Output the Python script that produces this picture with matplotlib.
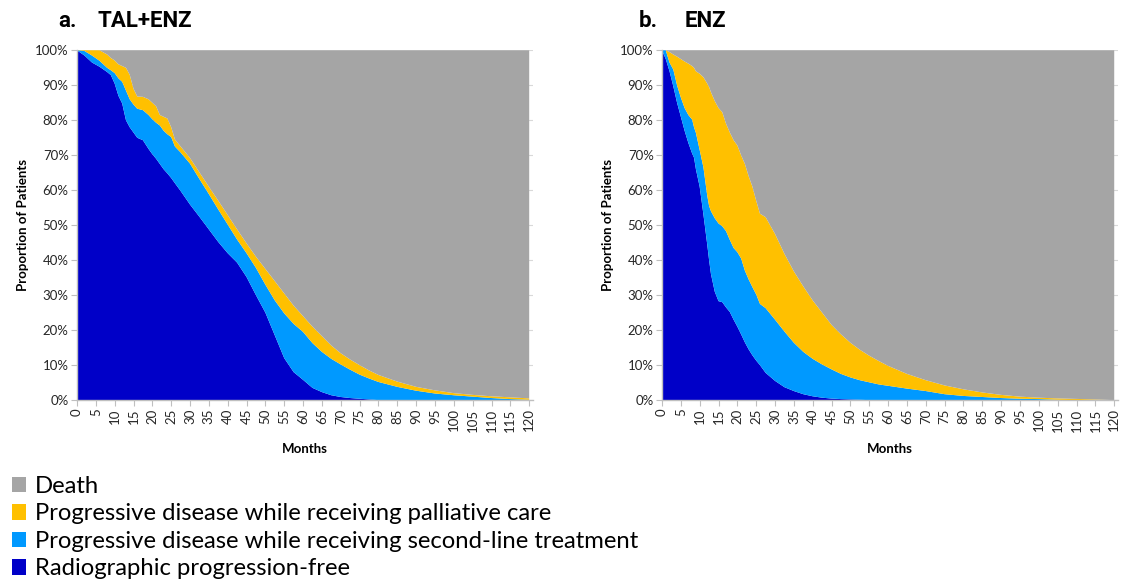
"""Stacked state-occupancy curves, TAL+ENZ vs ENZ."""

import matplotlib.pyplot as plt
import numpy as np
from matplotlib.patches import Patch
from matplotlib.ticker import FuncFormatter, MultipleLocator

plt.rcParams["font.family"] = ["Lato", "DejaVu Sans"]

COLORS = {
    "death": "#A5A5A5",
    "palliative": "#FFC000",
    "second_line": "#0099FF",
    "rpf": "#0000C8",
}
LEGEND_LABELS = [
    ("death", "Death"),
    ("palliative", "Progressive disease while receiving palliative care"),
    ("second_line", "Progressive disease while receiving second-line treatment"),
    ("rpf", "Radiographic progression-free"),
]

# panel a: cumulative %
A_MONTHS = [0, 2, 4, 6, 8, 9, 10, 11, 12, 13, 14, 15, 16, 17.5, 19, 20, 21, 22, 23, 24,
            25, 26, 27.5, 30, 32.5, 35, 37.5, 40, 42.5, 45, 47.5, 50, 52.5, 55, 57.5, 60,
            62.5, 65, 67.5, 70, 72.5, 75, 77.5, 80, 85, 90, 95, 100, 105, 110, 115, 120]
A_RPF = [100, 98.5, 96.5, 95.3, 93.8, 92.9, 90.5, 87, 84.8, 80, 78, 76.5, 75, 74.3, 71.8,
         70.3, 69, 67.5, 66, 64.8, 63.5, 62, 59.8, 55.9, 52.4, 48.8, 45.2, 42, 39.3, 35.2,
         30, 25, 18.5, 12, 8, 5.8, 3.5, 2.3, 1.4, 0.9, 0.6, 0.4, 0.2, 0, 0, 0, 0, 0, 0, 0,
         0, 0]
A_RPF_OR_2L = [100, 99.8, 98.5, 97, 95, 94.3, 93.5, 92, 91, 88.5, 86, 84.5, 83.3, 82.9,
               81.5, 80.3, 79.3, 78.5, 77, 76, 75.2, 72.5, 70.8, 67.6, 63.2, 58.9, 54.5,
               50.2, 45.9, 42, 37.8, 33, 28.5, 24.8, 21.8, 19.5, 16.3, 13.8, 11.8, 10.2,
               8.7, 7.3, 6.2, 5.2, 3.8, 2.7, 1.9, 1.4, 1, 0.6, 0.3, 0.1]
A_ALIVE = [100, 100, 100, 100, 98.8, 97.8, 97.1, 96, 95.5, 95, 93, 89, 86.8, 86.7, 86,
           85, 84, 81.5, 81, 80.5, 78, 74.5, 72.5, 69.2, 65.1, 61, 57, 52.9, 48.8, 44.8,
           41, 37.5, 34, 30.5, 27, 24, 21, 18.3, 15.6, 13.4, 11.6, 10, 8.5, 7.2, 5.3, 3.8,
           2.8, 2, 1.5, 1.1, 0.8, 0.5]

# panel b: cumulative %
B_MONTHS = [0, 1, 2, 3, 4, 5, 6, 7, 8, 8.5, 9, 10, 11, 12, 12.5, 13, 14, 15, 16, 17, 18,
            19, 20, 21, 22, 23, 24, 25, 26, 27.5, 30, 32.5, 35, 37.5, 40, 42.5, 45, 47.5,
            50, 52.5, 55, 57.5, 60, 65, 70, 75, 80, 85, 90, 95, 100, 105, 110, 115, 120]
B_RPF = [100, 97.5, 94, 89.7, 85, 81, 77, 73.5, 70.5, 69.3, 66, 61, 53, 44.5, 40, 36,
         31, 28.3, 28, 26.5, 25.2, 23, 21, 18.8, 16.5, 14.5, 12.8, 11.3, 10, 7.8, 5.5,
         3.7, 2.6, 1.7, 1.1, 0.7, 0.45, 0.3, 0.2, 0.1, 0, 0, 0, 0, 0, 0, 0, 0, 0, 0, 0, 0,
         0, 0, 0]
B_RPF_OR_2L = [100, 100, 96.5, 94.5, 90, 86.5, 83.5, 81.5, 80.2, 78, 76.4, 71.5, 66.5,
               58.5, 55.5, 54, 52, 50.5, 49.7, 48.3, 45.8, 43.5, 42.3, 40.5, 37, 34.5,
               32.3, 30.2, 27.5, 26.3, 23, 19.6, 16.4, 13.8, 11.8, 10.2, 8.8, 7.5, 6.5,
               5.7, 5.1, 4.5, 4.1, 3.3, 2.6, 1.7, 1.2, 0.9, 0.6, 0.4, 0.3, 0.1, 0, 0, 0]
B_ALIVE = [100, 100, 99.5, 98.8, 98.2, 97.5, 96.8, 96.2, 95.5, 95, 94, 93.3, 92.3, 90.5,
           89.5, 88, 85.5, 83.5, 82.3, 79, 76.5, 74.3, 72.8, 70, 67.5, 64, 61, 57, 53.3,
           52.3, 47.5, 41.8, 36.8, 32.5, 28.5, 25, 21.5, 18.8, 16.4, 14.4, 12.7, 11.2, 9.8,
           7.5, 5.7, 4.2, 3.1, 2.2, 1.5, 1, 0.7, 0.5, 0.35, 0.2, 0]

PANELS = [
    (A_MONTHS, A_RPF, A_RPF_OR_2L, A_ALIVE),
    (B_MONTHS, B_RPF, B_RPF_OR_2L, B_ALIVE),
]
PANEL_LETTERS = ["a.", "b."]
PANEL_TITLES = ["TAL+ENZ", "ENZ"]


def draw_panel(ax, months, rpf, rpf_or_2l, alive):
    months = np.asarray(months, dtype=float)
    rpf = np.asarray(rpf) / 100
    second_line = np.asarray(rpf_or_2l) / 100 - rpf
    palliative = np.asarray(alive) / 100 - np.asarray(rpf_or_2l) / 100
    death = 1 - np.asarray(alive) / 100
    ax.stackplot(
        months, rpf, second_line, palliative, death,
        colors=[COLORS["rpf"], COLORS["second_line"], COLORS["palliative"], COLORS["death"]],
        linewidth=0, zorder=2,
    )
    ax.set_xlim(0, 121)
    ax.set_ylim(0, 1)
    ax.xaxis.set_major_locator(MultipleLocator(5))
    ax.yaxis.set_major_locator(MultipleLocator(0.1))
    ax.yaxis.set_major_formatter(FuncFormatter(lambda v, _: f"{v:.0%}"))
    ax.grid(axis="y", color="#D9D9D9", linewidth=0.8, zorder=0)
    ax.set_axisbelow(True)
    for side in ("top", "right"):
        ax.spines[side].set_visible(False)
    for side in ("left", "bottom"):
        ax.spines[side].set_color("#BFBFBF")
        ax.spines[side].set_linewidth(1.0)
    ax.tick_params(axis="x", labelrotation=90, labelsize=9.5, length=4, color="#BFBFBF",
                   labelcolor="#262626", pad=2)
    ax.tick_params(axis="y", labelsize=9.5, length=4, color="#BFBFBF", labelcolor="#262626",
                   pad=2)
    ax.set_xlabel("Months", fontsize=9.5, fontweight="bold", labelpad=8)
    ax.set_ylabel("Proportion of Patients", fontsize=9.5, fontweight="bold", labelpad=4)


def main() -> None:
    fig = plt.figure(figsize=(11.27, 5.85), dpi=100)
    ax_a = fig.add_axes([0.0683, 0.316, 0.4046, 0.598])
    ax_b = fig.add_axes([0.5874, 0.316, 0.4046, 0.598])
    for ax, data in zip((ax_a, ax_b), PANELS):
        draw_panel(ax, *data)

    # panel titles, placed in figure pixels
    title_font = dict(fontsize=16, fontweight="bold", family=["Roboto", "DejaVu Sans"],
                      va="baseline", ha="left")
    for letter, name, x_letter, x_name in zip(PANEL_LETTERS, PANEL_TITLES,
                                              (58, 639), (97, 685)):
        fig.text(x_letter / 1127, 1 - 27 / 585, letter, **title_font)
        fig.text(x_name / 1127, 1 - 27 / 585, name, **title_font)

    handles = [Patch(facecolor=COLORS[key], edgecolor="none", label=label)
               for key, label in LEGEND_LABELS]
    fig.legend(handles=handles, loc="upper left", bbox_to_anchor=(12 / 1127, 1 - 476 / 585),
               frameon=False, fontsize=17.2, handlelength=0.6, handleheight=0.6,
               handletextpad=0.35, labelspacing=0.27, borderpad=0, borderaxespad=0)
    fig.savefig("out.png", dpi=100)
    plt.close(fig)


if __name__ == "__main__":
    main()
